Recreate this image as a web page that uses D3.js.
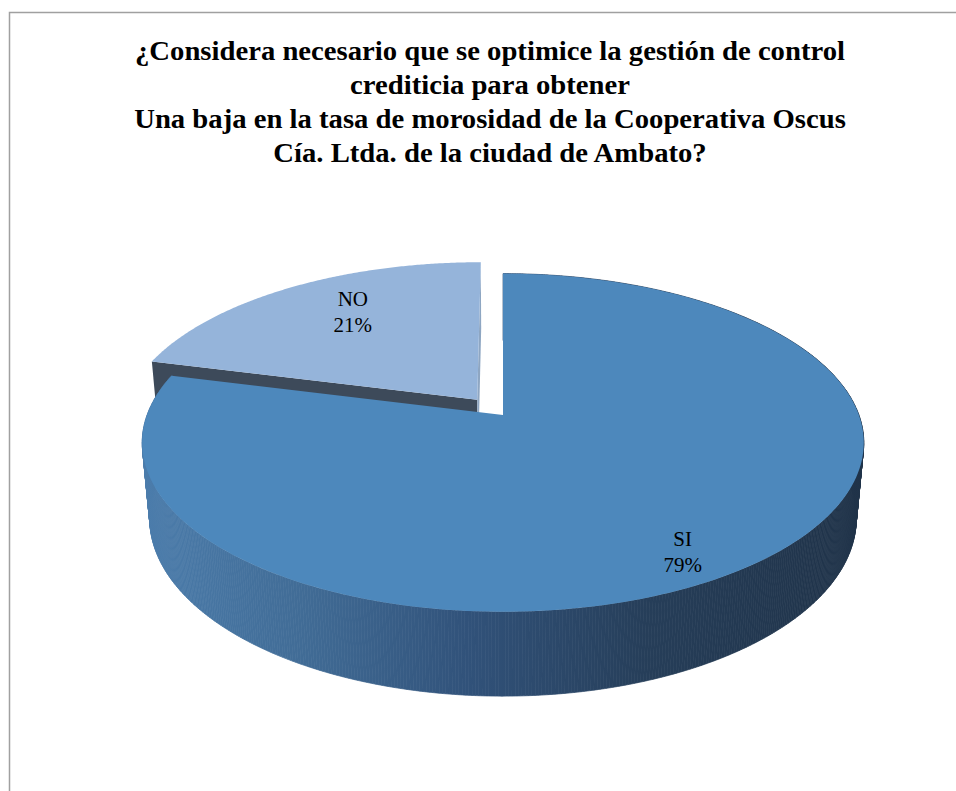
<!DOCTYPE html>
<html><head><meta charset="utf-8">
<script src="https://cdn.jsdelivr.net/npm/d3@7"></script>
<style>body{margin:0;background:#fff} svg{display:block}</style>
</head><body><svg id="c" width="956" height="791"></svg>
<script>
// ---- data ----
const categories = ["SI", "NO"];
const values = [79, 21];
const percentLabels = ["79%", "21%"];
const exploded = [false, true];
const titleLines = [
  "¿Considera necesario que se optimice la gestión de control",
  "crediticia para obtener",
  "Una baja en la tasa de morosidad de la Cooperativa Oscus",
  "Cía. Ltda. de la ciudad de Ambato?"
];
const topColors = ["#4d88bc", "#95b4da"];

// ---- setup ----
const svg = d3.select("#c");
const defs = svg.append("defs");
const grad = defs.append("linearGradient").attr("id", "wall")
  .attr("gradientUnits", "userSpaceOnUse").attr("x1", 143).attr("x2", 864).attr("y1", 0).attr("y2", 0);
[[0, "#4b7cab"], [0.22, "#416c96"], [0.45, "#31527a"], [0.7, "#263e59"], [1, "#1f3248"]]
  .forEach(([o, c]) => grad.append("stop").attr("offset", o).attr("stop-color", c));

// frame
svg.append("path").attr("d", "M9.5,791 V12.5 H956").attr("fill", "none")
  .attr("stroke", "#a0a0a0").attr("stroke-width", 1.5);

// title
const title = svg.append("g")
  .attr("font-family", "'Liberation Serif','Times New Roman',serif")
  .attr("font-weight", "bold").attr("font-size", 26.5).attr("text-anchor", "middle").attr("fill", "#000");
const tl = title.selectAll("text").data(titleLines).join("text").text(d => d);
const w1 = tl.node().getComputedTextLength();
const sx = 710 / w1;
tl.attr("transform", (d, i) => `translate(490,${60 + 34 * i}) scale(${sx},1)`);

// ---- 3D projection ----
const cam = { cx: 503, cy: 415, F: 1928, D: 5.417, phi: Math.asin(0.4623) };
const depthH = 0.242, explodeDist = 0.12;
const sP = Math.sin(cam.phi), cP = Math.cos(cam.phi);
function proj(x, y, z) {
  const dep = cam.D - y * sP - z * cP;
  const sy = y * cP - z * sP;
  return [cam.cx + cam.F * x / dep, cam.cy - cam.F * sy / dep];
}
function pt(theta, r, y, off) {
  return proj(off[0] + r * Math.sin(theta), y, off[1] - r * Math.cos(theta));
}

const arcs = d3.pie().sort(null).value(d => d)(values).map((a, i) => {
  const mid = (a.startAngle + a.endAngle) / 2;
  const e = exploded[i] ? explodeDist : 0;
  return { ...a, i, mid, off: [e * Math.sin(mid), -e * Math.cos(mid)] };
});
const line = d3.line();
const angScale = (a) => d3.range(0, 201).map(k => a.startAngle + (a.endAngle - a.startAngle) * k / 200);

function drawSlice(a) {
  const g = svg.append("g");
  const off = a.off;
  if (exploded[a.i]) {
    const f = [pt(a.startAngle, 0, 0, off), pt(a.startAngle, 1, 0, off),
               pt(a.startAngle, 1, -depthH, off), pt(a.startAngle, 0, -depthH, off)];
    g.append("path").attr("d", line(f) + "Z").attr("fill", "#3d4a5a");
    const f2 = [pt(a.endAngle, 0, 0, off), pt(a.endAngle, 1, 0, off),
                pt(a.endAngle, 1, -depthH, off), pt(a.endAngle, 0, -depthH, off)];
    g.append("path").attr("d", line(f2) + "Z").attr("fill", "#8ea6c2");
  } else {
    const ts = d3.range(a.startAngle, a.endAngle, 0.008).concat([a.endAngle]);
    for (let k = 0; k < ts.length - 1; k++) {
      const q = [pt(ts[k], 1, 0, off), pt(ts[k + 1], 1, 0, off),
                 pt(ts[k + 1], 1, -depthH, off), pt(ts[k], 1, -depthH, off)];
      g.append("path").attr("d", line(q) + "Z").attr("fill", "url(#wall)")
        .attr("stroke", "url(#wall)").attr("stroke-width", 0.7);
    }
  }
  const top = [pt(0, 0, 0, off)].concat(angScale(a).map(t => pt(t, 1, 0, off)));
  g.append("path").attr("d", line(top) + "Z").attr("fill", topColors[a.i]);
}
drawSlice(arcs[1]);
drawSlice(arcs[0]);

// labels
const labelR = [0.8, 0.68];
const labelNudge = [[-15, 22], [8, -8]];
const lab = svg.append("g").attr("font-family", "'Liberation Serif','Times New Roman',serif")
  .attr("font-size", 21).attr("text-anchor", "middle").attr("fill", "#000");
arcs.forEach(a => {
  const p = pt(a.mid, labelR[a.i], 0, a.off);
  const x = p[0] + labelNudge[a.i][0], y = p[1] + labelNudge[a.i][1];
  lab.append("text").attr("x", x).attr("y", y - 7).text(categories[a.i]);
  lab.append("text").attr("x", x).attr("y", y + 19).text(percentLabels[a.i]);
});
</script>
</body></html>
